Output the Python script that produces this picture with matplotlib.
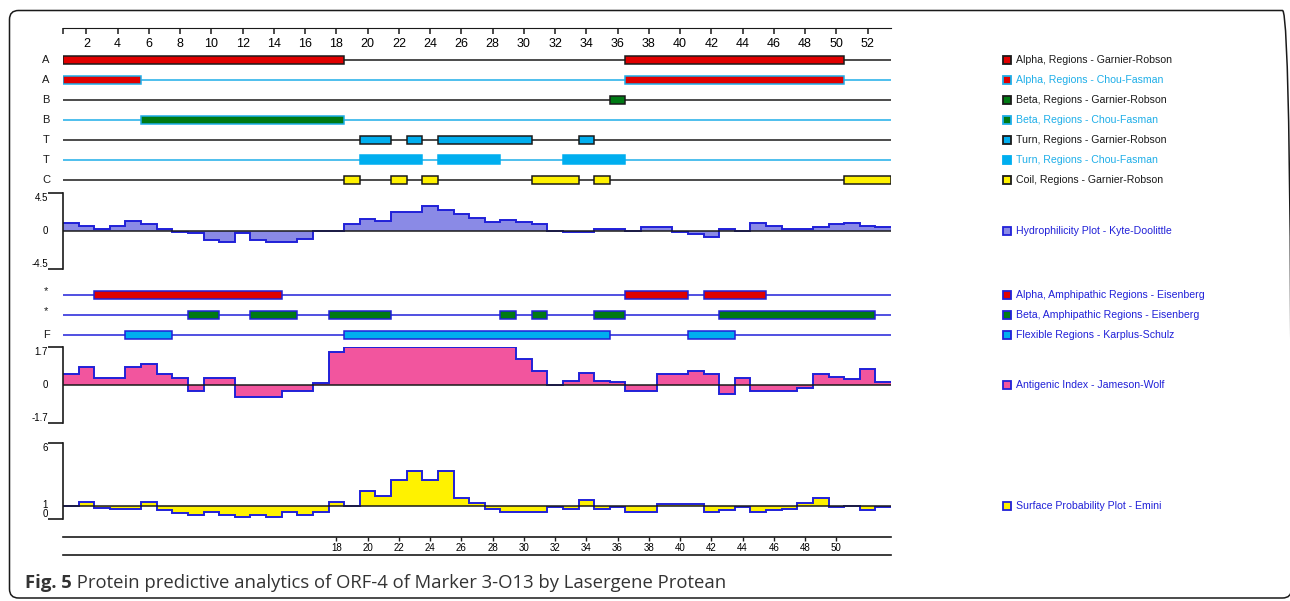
import numpy as np
import matplotlib
matplotlib.use('Agg')
import matplotlib.pyplot as plt
import matplotlib.transforms as mtransforms
from matplotlib.patches import FancyBboxPatch

plt.rcParams['font.family'] = ['Liberation Sans', 'DejaVu Sans']

# residue windows 1..53
residues = np.arange(1, 54)

alpha_gr = [(1, 18), (37, 50)]
alpha_cf = [(1, 5), (37, 50)]
beta_gr = [(36, 36)]
beta_cf = [(6, 18)]
turn_gr = [(20, 21), (23, 23), (25, 30), (34, 34)]
turn_cf = [(20, 23), (25, 28), (33, 36)]
coil_gr = [(19, 19), (22, 22), (24, 24), (31, 33), (35, 35), (51, 53)]

alpha_amph = [(3, 14), (37, 40), (42, 45)]
beta_amph = [(9, 10), (13, 15), (18, 21), (29, 29), (31, 31), (35, 36), (43, 52)]
flexible = [(5, 7), (19, 35), (41, 43)]

hydro = [0.95, 0.6, 0.25, 0.6, 1.1, 0.8, 0.25, -0.1, -0.3, -1.1,
         -1.3, -0.3, -1.1, -1.3, -1.3, -0.95, 0, 0, 0.8, 1.35,
         1.1, 2.2, 2.2, 2.95, 2.4, 1.95, 1.5, 1.07, 1.3, 1.07,
         0.75, 0, -0.15, -0.15, 0.2, 0.2, 0, 0.4, 0.4, -0.15,
         -0.35, -0.7, 0.2, 0, 0.95, 0.6, 0.2, 0.2, 0.4, 0.8,
         0.95, 0.6, 0.4]

antigenic = [0.49, 0.8, 0.33, 0.33, 0.8, 0.95, 0.49, 0.33, -0.28, 0.31,
             0.31, -0.55, -0.55, -0.55, -0.28, -0.28, 0.07, 1.49, 1.7, 1.7,
             1.7, 1.7, 1.7, 1.7, 1.7, 1.7, 1.7, 1.7, 1.7, 1.16,
             0.61, 0, 0.2, 0.54, 0.2, 0.13, -0.28, -0.28, 0.49, 0.49,
             0.61, 0.49, -0.4, 0.33, -0.28, -0.28, -0.28, -0.13, 0.49, 0.34,
             0.27, 0.73, 0.12]

surface = [1.0, 1.34, 0.87, 0.74, 0.74, 1.34, 0.66, 0.42, 0.26, 0.53,
           0.26, 0.13, 0.26, 0.13, 0.53, 0.26, 0.53, 1.34, 1.0, 2.2,
           1.82, 3.08, 3.8, 3.08, 3.8, 1.63, 1.26, 0.76, 0.53, 0.53,
           0.53, 0.89, 0.76, 1.5, 0.76, 0.89, 0.53, 0.53, 1.13, 1.13,
           1.13, 0.53, 0.66, 0.89, 0.53, 0.66, 0.76, 1.26, 1.63, 0.89,
           1.0, 0.66, 0.89]

top_ticks = list(range(2, 53, 2))
bottom_ticks = list(range(18, 51, 2))

RED = '#e00000'
GREEN = '#007a14'
CYAN = '#00aeef'
YELLOW = '#fff200'
LBLUE = '#1eaee8'
BLUE = '#2020d8'
DARK = '#1a1a1a'

W, H = 1290, 601
fig = plt.figure(figsize=(W / 100, H / 100), dpi=100)


def fx(px):
    return px / W


def box(x0, y0, x1, y1):
    ax = fig.add_axes([x0 / W, 1 - y1 / H, (x1 - x0) / W, (y1 - y0) / H])
    ax.set_xlim(0.5, 53.5)
    for s in ax.spines.values():
        s.set_visible(False)
    ax.set_xticks([])
    ax.set_yticks([])
    ax.patch.set_alpha(0)
    return ax


def side(ax):
    return mtransforms.blended_transform_factory(fig.transFigure, ax.transData)


def legend(ax, y, label, face, edge, tc):
    tr = side(ax)
    ax.plot([fx(1007)], [y], marker='s', ms=6.3, mfc=face, mec=edge, mew=1.3,
            transform=tr, clip_on=False)
    ax.text(fx(1016), y, label, color=tc, fontsize=7.6, va='center', transform=tr)


def track(ax, row, regions, face, edge, line, h):
    ax.axhline(row, color=line, lw=1.1, zorder=1)
    ax.barh([row] * len(regions), [e - s + 1 for s, e in regions],
            left=[s - 0.5 for s, e in regions], height=h,
            color=face, edgecolor=edge, lw=1.1, zorder=2)


def profile(ax, values, base, lo, hi, fill):
    edges = np.arange(0.5, 54, 1)
    ax.set_ylim(lo, hi)
    ax.stairs(values, edges, baseline=base, fill=True, color=fill, lw=0, zorder=1)
    ax.stairs(values, edges, baseline=None, color=BLUE, lw=1.4, zorder=2)
    ax.axhline(base, color=DARK, lw=1.1, zorder=3)
    ax.spines['left'].set_visible(True)
    ax.spines['left'].set_linewidth(1.2)
    ax.spines['left'].set_color(DARK)
    ax.set_yticks([lo, hi])
    ax.tick_params(axis='y', length=11, width=1.2, color=DARK, labelleft=False)


# top ruler
ax_r = box(63, 20, 891, 28)
ax_r.spines['bottom'].set_visible(True)
ax_r.spines['bottom'].set_color(DARK)
ax_r.set_xticks(top_ticks)
ax_r.set_xticks([0.5], minor=True)
ax_r.tick_params(axis='x', which='both', direction='out', length=4.5, width=1.1,
                 color=DARK, labelsize=9, pad=3)

# secondary structure tracks
ax_t = box(63, 50, 891, 190)
ax_t.set_ylim(6.5, -0.5)
rows = [
    ('A', alpha_gr, RED, DARK, DARK, 0.4, 'Alpha, Regions - Garnier-Robson', DARK),
    ('A', alpha_cf, RED, LBLUE, LBLUE, 0.36, 'Alpha, Regions - Chou-Fasman', LBLUE),
    ('B', beta_gr, GREEN, DARK, DARK, 0.4, 'Beta, Regions - Garnier-Robson', DARK),
    ('B', beta_cf, GREEN, LBLUE, LBLUE, 0.36, 'Beta, Regions - Chou-Fasman', LBLUE),
    ('T', turn_gr, CYAN, DARK, DARK, 0.4, 'Turn, Regions - Garnier-Robson', DARK),
    ('T', turn_cf, CYAN, CYAN, LBLUE, 0.45, 'Turn, Regions - Chou-Fasman', LBLUE),
    ('C', coil_gr, YELLOW, DARK, DARK, 0.4, 'Coil, Regions - Garnier-Robson', DARK),
]
for i, (lab, reg, face, edge, line, h, name, tc) in enumerate(rows):
    track(ax_t, i, reg, face, edge, line, h)
    ax_t.text(fx(46), i, lab, ha='center', va='center', fontsize=8, color=DARK,
              transform=side(ax_t))
    legend(ax_t, i, name, face, edge, tc)

# hydrophilicity
ax_h = box(63, 192.7, 891, 268.7)
profile(ax_h, hydro, 0, -4.5, 4.5, '#8a8ae6')
tr = side(ax_h)
ax_h.text(fx(48), 4.5, '4.5', ha='right', va='top', fontsize=7, transform=tr)
ax_h.text(fx(48), 0, '0', ha='right', va='center', fontsize=7, transform=tr)
ax_h.text(fx(48), -4.5, '-4.5', ha='right', va='bottom', fontsize=7, transform=tr)
legend(ax_h, 0, 'Hydrophilicity Plot - Kyte-Doolittle', '#8a8ae6', BLUE, BLUE)

# Eisenberg / Karplus-Schulz tracks
ax_e = box(63, 285, 891, 345)
ax_e.set_ylim(2.5, -0.5)
erows = [
    ('*', alpha_amph, RED, 'Alpha, Amphipathic Regions - Eisenberg'),
    ('*', beta_amph, GREEN, 'Beta, Amphipathic Regions - Eisenberg'),
    ('F', flexible, CYAN, 'Flexible Regions - Karplus-Schulz'),
]
for i, (lab, reg, face, name) in enumerate(erows):
    track(ax_e, i, reg, face, BLUE, BLUE, 0.43)
    ax_e.text(fx(46), i - (0.2 if lab == '*' else 0), lab, ha='center', va='center',
              fontsize=8, color=DARK, transform=side(ax_e))
    legend(ax_e, i, name, face, BLUE, BLUE)

# antigenic index
ax_a = box(63, 347.3, 891, 422.7)
profile(ax_a, antigenic, 0, -1.7, 1.7, '#f2559e')
tr = side(ax_a)
ax_a.text(fx(48), 1.7, '1.7', ha='right', va='top', fontsize=7, transform=tr)
ax_a.text(fx(48), 0, '0', ha='right', va='center', fontsize=7, transform=tr)
ax_a.text(fx(48), -1.7, '-1.7', ha='right', va='bottom', fontsize=7, transform=tr)
legend(ax_a, 0, 'Antigenic Index - Jameson-Wolf', '#f2559e', BLUE, BLUE)

# surface probability
ax_s = box(63, 442.7, 891, 518.7)
profile(ax_s, surface, 1, 0, 6, YELLOW)
tr = side(ax_s)
ax_s.text(fx(48), 6, '6', ha='right', va='top', fontsize=7, transform=tr)
ax_s.text(fx(48), 1.1, '1', ha='right', va='center', fontsize=7, transform=tr)
ax_s.text(fx(48), 0, '0', ha='right', va='bottom', fontsize=7, transform=tr)
legend(ax_s, 1, 'Surface Probability Plot - Emini', YELLOW, BLUE, BLUE)

# bottom ruler
ax_b = box(63, 537, 891, 555)
for s in ('top', 'bottom'):
    ax_b.spines[s].set_visible(True)
    ax_b.spines[s].set_linewidth(1.2)
    ax_b.spines[s].set_color(DARK)
ax_b.set_xticks(bottom_ticks)
ax_b.tick_params(axis='x', top=True, bottom=False, direction='in', length=3,
                 width=1, color=DARK, labelbottom=False)
for v in bottom_ticks:
    ax_b.text(v, 0.4, str(v), ha='center', va='center', fontsize=7,
              transform=ax_b.get_xaxis_transform())

# frame and caption
frame = FancyBboxPatch((9.5, H - 598), 1282, 587.5,
                       boxstyle='round,pad=0,rounding_size=9',
                       transform=mtransforms.IdentityTransform(),
                       fill=False, ec=DARK, lw=1.1)
fig.add_artist(frame)

t1 = fig.text(fx(25), 1 - 588 / H, 'Fig. 5', fontsize=13.3, fontweight='bold',
              family=['Open Sans', 'DejaVu Sans'], color='#333333', va='baseline')
fig.add_artist(plt.Annotation(' Protein predictive analytics of ORF-4 of Marker 3-O13 by Lasergene Protean',
                              xy=(1, 0), xycoords=t1, va='bottom', fontsize=13.3,
                              family=['Open Sans', 'DejaVu Sans'], color='#333333'))

fig.savefig('out.png', dpi=100)
